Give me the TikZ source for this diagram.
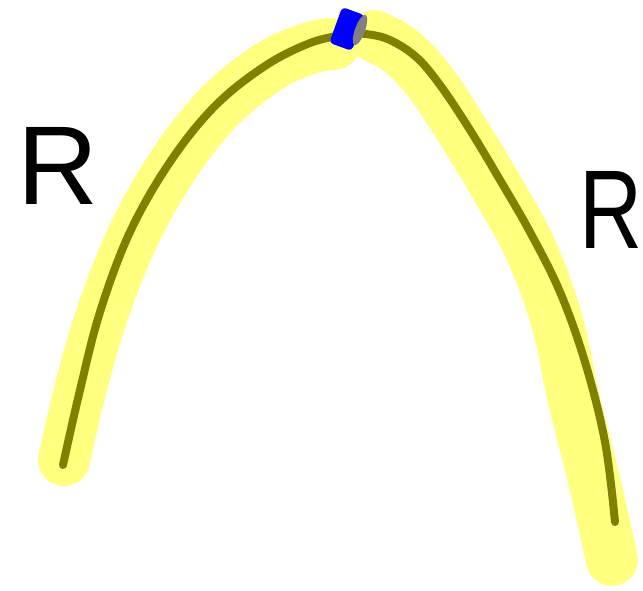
\documentclass[tikz,border=0pt]{standalone}
\usepackage{fontspec}
\setmainfont{Liberation Sans}
\definecolor{hl}{HTML}{FFFF80}
\definecolor{olive}{HTML}{808000}
\begin{document}
\begin{tikzpicture}[x=1pt,y=-1pt,
  hlstroke/.style={hl,line width=52pt,line cap=round,line join=round},
  wire/.style={olive,line width=8pt,line cap=round,line join=round},
  letter/.style={font=\fontsize{112}{112}\selectfont,inner sep=0pt,anchor=center}]
\useasboundingbox (0,0) rectangle (643,591);
% highlights
\draw[hlstroke] plot[smooth,tension=0.6] coordinates {(64,460) (82,383) (106,303) (138,226) (178,158) (222,104) (270,66) (310,48) (334,44)};
\draw[hlstroke] plot[smooth,tension=0.6] coordinates {(374,36) (402,52) (430,82) (462,130) (497,188) (530,248) (556,318) (574,400) (594,480) (612,560)};
% wires
\draw[wire] plot[smooth,tension=0.6] coordinates {(63,465) (80,390) (100,312) (130,232) (170,162) (215,106) (265,66) (310,43) (343,35)};
\draw[wire] plot[smooth,tension=0.6] coordinates {(355,33) (385,38) (415,56) (440,85) (470,130) (500,180) (530,232) (560,292) (585,362) (605,442) (615,522)};
% knob
\fill[blue,rounded corners=4pt,rotate around={-20:(347,29)}] (335,10) rectangle (359,48);
\fill[gray,rotate around={-20:(360,30)}] (360,30) ellipse (5pt and 16pt);
% labels
\node[letter] (r1) at (58,166) {R};
\node[letter,xscale=0.78] (r2) at (611,210) {R};
\end{tikzpicture}
\end{document}
